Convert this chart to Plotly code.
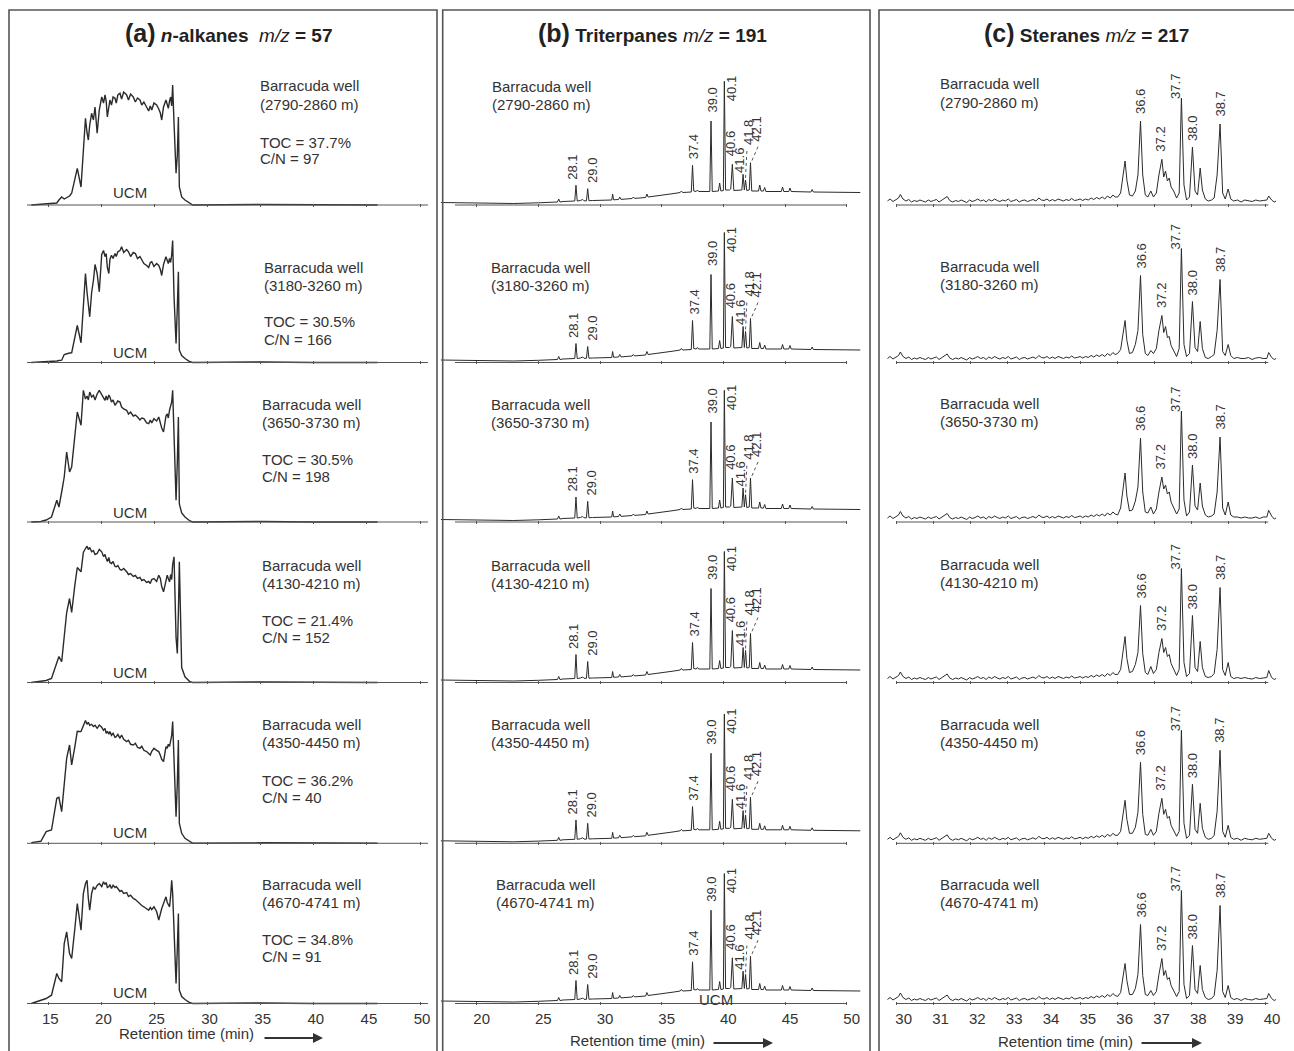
import plotly.graph_objects as go

W, H = 1294, 1051
FONT = "Liberation Sans, Arial, sans-serif"
INK = "#2b2b2b"

# ----------------------------- DATA -----------------------------
# (a) n-alkanes m/z 57 : retention time (min) and relative abundance
ALK_T = [13.4, 14.3, 14.8, 15.3, 15.8, 16.0, 16.26, 16.5, 16.73, 17.0, 17.2, 17.5, 17.73, 18.08, 18.3,
         18.5, 18.65, 18.77, 18.9, 19.08, 19.25, 19.4, 19.6, 19.8, 20.03, 20.2, 20.34, 20.45, 20.56,
         20.7, 20.8, 20.95, 21.1, 21.28, 21.4, 21.55, 21.75, 21.9, 22.1, 22.38, 22.55, 22.75, 23.0,
         23.2, 23.4, 23.63, 23.8, 24.0, 24.26, 24.45, 24.6, 24.74, 24.95, 25.2, 25.4, 25.55, 25.68,
         25.85, 26.08, 26.2, 26.3, 26.42, 26.52, 26.62, 26.71, 26.84, 27.03, 27.15, 27.25, 27.34,
         27.56, 27.87, 28.34, 28.6, 35.0, 40.0, 46.0]
ALK_H1 = [0, 0.5, 1, 1.5, 2, 5, 8, 6, 7.7, 9, 11.7, 25, 36.7, 18, 51.7, 86.7, 72, 65, 80, 91.7, 85, 98,
          71.7, 95, 108, 102, 110, 104, 88, 101, 105, 100, 108, 106.7, 102, 110, 111.7, 106, 113, 110,
          105, 111, 108, 103, 107, 105, 100, 103, 98, 94, 99, 95, 102, 100, 96, 92, 85, 98, 105, 100,
          96.7, 104, 108, 99, 120, 81.7, 31.7, 50, 88, 18, 8, 5, 1.7, 0, 0.5, 0, 0]
ALK_H2 = [0, 0.3, 0.5, 0.7, 1.5, 2, 2.3, 8, 9, 9.5, 9.7, 24, 37, 19.7, 59, 89, 70, 55, 45.7, 70, 82, 98,
          89, 70.7, 108, 112, 106, 109, 95, 89, 103, 107.3, 104, 109, 106, 110.7, 112, 115.7, 110, 113,
          110.7, 106, 110, 109, 104, 106, 102, 99, 97, 95, 100, 100.7, 96, 99, 97, 93, 87, 98, 105.7,
          101, 99, 104, 100, 108, 122, 65.7, 19, 55, 90.7, 12.3, 7, 4, 0.7, 0, 0.5, 0, 0]
ALK_H3 = [0, 0.5, 2, 5, 21.7, 15, 30, 45, 70, 50, 55, 85, 110, 96.7, 131.7, 123, 126, 122, 130, 125,
          126.7, 122, 128, 131.7, 127, 124, 121.7, 126, 122, 127, 125, 120, 122, 116.7, 119, 121, 120,
          115, 113, 111.7, 108, 110, 106, 107, 105, 102, 104, 103.3, 99, 98.3, 102, 99, 103.3, 101, 105,
          98, 94, 90, 106, 108, 104, 112, 115, 120, 131.7, 91.7, 21.7, 60, 105, 18, 9, 5, 1, 0, 0.5, 0, 0]
ALK_H4 = [0, 1, 2, 4, 20, 26, 20.7, 45.7, 70, 84, 70, 97.3, 115, 110.7, 130, 134, 136.3, 133, 135,
          130.7, 132, 128, 129, 133, 130.7, 126, 128, 124, 121, 125, 120, 119, 121, 116, 115.7, 117,
          113, 112.3, 114, 110.7, 108, 109, 106, 107, 104, 105, 102, 103, 100, 101, 99, 103, 104, 101,
          107.3, 104, 96, 90.7, 103, 107.3, 104, 100.7, 108, 103, 118, 125.7, 45, 29, 70, 120.7, 15,
          5.7, 0.7, 0, 0.5, 0, 0]
ALK_H5 = [0.7, 2, 11.7, 13.3, 45, 46, 31.7, 63.3, 85, 98.3, 78.3, 96.7, 112, 111.7, 118, 122.7, 119,
          121, 118, 119, 116.7, 118, 115, 118.3, 116, 113, 115, 110, 112, 109, 111.7, 108, 110, 106,
          106.7, 109, 105, 108.3, 104, 101.7, 103, 99, 98.3, 100, 96, 95, 97, 93, 91.7, 90, 88.3, 92,
          95, 93, 91.7, 88, 84, 81.7, 96.7, 95, 99, 97, 103.3, 108, 121.7, 73.3, 26.7, 60, 103.3, 20,
          10, 5, 1.7, 0, 0.5, 0, 0]
ALK_H6 = [0, 3, 5, 8.3, 30, 25, 21.7, 60, 71.7, 50, 45, 75, 100, 73.3, 110, 120, 123.3, 105, 93.3,
          110, 116.7, 114, 118, 120, 117, 121.7, 119, 121, 116, 116.7, 119, 115, 118.3, 116, 117, 115,
          112, 113, 110, 111, 107, 108.3, 105, 104, 101.7, 100, 98, 96.7, 95, 93.3, 96, 94, 96.7, 92,
          83.3, 90, 95, 100, 106.7, 101, 99, 96.7, 108, 123.3, 110, 80, 20, 55, 90, 13.3, 7, 4, 0.7,
          0, 0.5, 0, 0]
ALK_ROWS = [ALK_H1, ALK_H2, ALK_H3, ALK_H4, ALK_H5, ALK_H6]

# (b) triterpanes m/z 191 : baseline / minor peaks, shared by all depths
TRI_BASE_T = [17.1, 19.0, 21.0, 23.0, 25.0, 26.55, 26.65, 26.75, 27.0, 27.95, 28.15, 28.4, 28.6, 28.7,
              28.9, 29.1, 29.4, 30.95, 31.02, 31.1, 31.5, 31.6, 31.7, 32.6, 32.7, 32.8, 33.7, 33.8,
              33.9, 35.0, 36.0, 36.5, 36.6, 36.7, 37.4, 37.6, 37.8, 37.9, 38.0, 38.9, 39.1, 39.6, 39.7,
              39.8, 40.0, 40.18, 40.5, 40.6, 40.85, 41.5, 41.7, 41.9, 42.1, 42.3, 42.85, 42.95, 43.05,
              43.25, 43.35, 43.45, 44.7, 44.8, 44.9, 45.3, 45.4, 45.5, 47.1, 47.2, 47.3, 48.5, 50.0, 51.1]
TRI_BASE_H = [2.5, 2.2, 1.8, 1.5, 2.2, 3, 6, 3, 3.5, 4, 4, 4.5, 5.5, 4.2, 4.2, 4.3, 4.5, 5, 11, 5.2,
              5.5, 8, 5.6, 6.5, 8, 6.6, 7.5, 11, 8, 9.5, 11.5, 12.5, 14, 12.5, 13, 14, 13.5, 15, 13.5,
              13.5, 13.5, 14, 22, 14, 14.5, 15, 15, 16, 14.5, 15, 15, 14.5, 15, 14, 14, 20, 14, 14, 17.5,
              13.5, 13.5, 18, 13.5, 13.5, 17, 13.5, 13, 15.5, 13, 13, 13, 12.5]
TRI_LABELS = ["28.1", "29.0", "37.4", "39.0", "40.1", "40.6", "41.6", "41.8", "42.1"]
TRI_PEAK_T = [28.05, 29.0, 37.5, 39.0, 40.08, 40.73, 41.6, 41.8, 42.2]
TRI_H1 = [19.7, 16.3, 39.7, 84, 123.7, 40.7, 30.7, 25, 42.3]
TRI_H2 = [19, 16, 42, 88, 130, 46, 36, 31, 44]
TRI_H3 = [25, 20.7, 42.3, 100, 131.7, 44, 34, 27.3, 44]
TRI_H4 = [28, 21, 40, 94, 131, 52, 35, 32, 49]
TRI_H5 = [23.3, 20, 36.7, 90, 129.3, 44, 32.7, 28.3, 46]
TRI_H6 = [23, 19, 41.7, 93.3, 130, 45.7, 32.3, 29, 47.3]
TRI_ROWS = [TRI_H1, TRI_H2, TRI_H3, TRI_H4, TRI_H5, TRI_H6]

# (c) steranes m/z 217 : noisy baseline (shared) + peak region per depth
STE_BASE_T = [29.75, 29.82, 29.9, 29.97, 30.05, 30.1, 30.17, 30.25, 30.33, 30.4, 30.48, 30.55, 30.63,
              30.7, 30.78, 30.86, 30.93, 31.0, 31.08, 31.15, 31.23, 31.3, 31.37, 31.44, 31.52, 31.6,
              31.68, 31.75, 31.83, 31.9, 31.98, 32.05, 32.13, 32.2, 32.28, 32.36, 32.43, 32.5, 32.58,
              32.66, 32.73, 32.8, 32.88, 32.95, 33.03, 33.1, 33.18, 33.25, 33.33, 33.4, 33.48, 33.55,
              33.63, 33.7, 33.78, 33.86, 33.93, 34.0, 34.08, 34.15, 34.23, 34.3, 34.38, 34.45, 34.53,
              34.6, 34.68, 34.75, 34.83, 34.9, 34.98, 35.05, 35.13, 35.2, 35.28, 35.35, 35.43, 35.5,
              35.58, 35.65, 35.72, 35.8, 35.87, 35.93]
STE_BASE_H = [4, 6, 3.5, 5, 7, 10.5, 6, 4, 5.5, 3, 4.5, 3.5, 5, 4, 3, 5, 3.5, 4.5, 5.5, 3, 5, 6, 8.5,
              4.5, 3, 4.5, 3.5, 5, 4, 2.5, 5, 3.5, 4.5, 6, 4, 5, 3, 5.5, 4, 6, 4.5, 3.5, 5, 4, 6, 3.5,
              4.5, 5.5, 3, 4.5, 5, 3.5, 4.5, 5.5, 4, 7, 5, 4.5, 6, 4, 5.5, 4, 6, 5, 4, 5.5, 4.5, 6.5,
              4.5, 5, 6, 4.5, 6, 5, 7, 5.5, 7.5, 6, 8, 6, 9, 7, 10, 8]
STE_T = [36.0, 36.08, 36.15, 36.2, 36.25, 36.32, 36.4, 36.48, 36.55, 36.62, 36.68, 36.75, 36.82, 36.9,
         36.97, 37.05, 37.12, 37.2, 37.25, 37.3, 37.35, 37.4, 37.45, 37.52, 37.6, 37.67, 37.73, 37.8,
         37.87, 37.95, 38.03, 38.1, 38.17, 38.24, 38.3, 38.38, 38.46, 38.55, 38.62, 38.7, 38.78, 38.85,
         38.92, 39.0, 39.07, 39.15, 39.25, 39.35, 39.45, 39.55, 39.65, 39.75, 39.85, 39.95, 40.05,
         40.1, 40.18, 40.25, 40.3]
STE_H1 = [8, 12, 30, 44, 25, 10, 9, 14, 30, 84, 30, 10, 8, 14, 8, 12, 30, 45.7, 28, 34, 24, 27, 18, 14,
          7, 12, 107, 20, 5, 8, 58, 14, 10, 37, 15, 6, 4, 5, 7, 30, 81, 12, 6, 16, 6, 4, 5, 3, 5, 4,
          3.5, 5, 4, 4.5, 5, 9, 5, 3, 4]
STE_H2 = [9, 13, 28, 42, 22, 9, 10, 18, 32, 87, 28, 9, 7, 12, 9, 14, 32, 47, 30, 36, 25, 26, 17, 12,
          6, 14, 114, 18, 6, 9, 61, 15, 11, 41, 14, 5, 4, 6, 8, 32, 83, 11, 7, 18, 7, 4, 5, 4, 4, 5,
          3, 4.5, 5, 4, 4, 10, 5, 3, 4]
STE_H3 = [7, 14, 33, 49, 26, 11, 12, 21, 35, 84, 30, 10, 9, 15, 8, 13, 30, 45, 33, 37, 28, 30, 20, 15,
          8, 13, 111, 22, 6, 10, 57, 16, 12, 39, 16, 7, 5, 6, 8, 30, 85, 14, 7, 20, 7, 5, 5, 4, 5, 4,
          4, 5, 3.5, 5, 5, 11.7, 6, 3, 4]
STE_H4 = [8, 13, 31, 46, 24, 10, 11, 18, 30, 77, 29, 10, 8, 16, 9, 13, 30, 44, 30, 35, 26, 28, 19, 13,
          7, 13, 114, 20, 6, 9, 67, 15, 11, 41, 15, 6, 5, 6, 9, 33, 95, 13, 7, 20, 6, 4, 5, 4, 5, 4,
          3.5, 5, 4, 4.5, 5, 12, 5, 3, 4]
STE_H5 = [8, 12, 29, 43, 24, 10, 10, 16, 31, 81, 29, 9, 8, 14, 8, 12, 30, 45, 29, 34, 25, 27, 18, 13,
          7, 12, 113, 20, 5, 8, 59, 14, 10, 40, 15, 6, 4, 5, 8, 32, 93, 12, 6, 18, 6, 4, 5, 3, 5, 4,
          3.5, 5, 4, 4.5, 5, 10, 5, 3, 4]
STE_H6 = [7, 11, 27, 40, 23, 9, 9, 15, 29, 79, 28, 9, 8, 13, 8, 12, 29, 45, 28, 33, 24, 26, 18, 13,
          7, 12, 113, 19, 5, 8, 58, 14, 10, 38, 14, 6, 4, 5, 8, 33, 98, 12, 6, 18, 6, 4, 5, 3, 5, 4,
          3.5, 5, 4, 4.5, 5, 10, 5, 3, 4]
STE_ROWS = [STE_H1, STE_H2, STE_H3, STE_H4, STE_H5, STE_H6]
STE_LABELS = ["36.6", "37.2", "37.7", "38.0", "38.7"]
STE_PEAK_T = [36.62, 37.2, 37.73, 38.03, 38.78]

DEPTHS = ["2790-2860 m", "3180-3260 m", "3650-3730 m", "4130-4210 m", "4350-4450 m", "4670-4741 m"]
TOC = ["37.7%", "30.5%", "30.5%", "21.4%", "36.2%", "34.8%"]
CN = ["97", "166", "198", "152", "40", "91"]

ALK_TICKS = [15, 20, 25, 30, 35, 40, 45, 50]
TRI_TICKS = [20, 25, 30, 35, 40, 45, 50]
STE_TICKS = [30, 31, 32, 33, 34, 35, 36, 37, 38, 39, 40]

# ----------------------------- LAYOUT -----------------------------
ROW_BASE = [205, 362.5, 522, 682.5, 843.3, 1003.5]   # pixel y of each axis line
PAD = 1.5
PLOT_H = 150

# per column: domain px, reference tick mapping, axis-line extent, label shift
COLS = [
    dict(px0=27, px1=430, t_ref=15, px_ref=48.3, ppu=10.62, line=(13.0, 50.75), ticks=ALK_TICKS, shift=2),
    dict(px0=440, px1=862, t_ref=20, px_ref=476.7, ppu=12.333, line=(18.24, 50.03), ticks=TRI_TICKS, shift=5),
    dict(px0=884, px1=1280, t_ref=30, px_ref=896.7, ppu=36.83, line=(30.0, 40.09), ticks=STE_TICKS, shift=7),
]


def pxx(x):
    return x / W


def pyy(y):
    return 1 - y / H


fig = go.Figure()
layout = dict(width=W, height=H, margin=dict(l=0, r=0, t=0, b=0), paper_bgcolor="white",
              plot_bgcolor="rgba(0,0,0,0)", showlegend=False)
shapes = []
annotations = []


def ax_id(k):
    return "" if k == 1 else str(k)


for r in range(6):
    for c in range(3):
        k = r * 3 + c + 1
        s = ax_id(k)
        col = COLS[c]
        r0 = col["t_ref"] + (col["px0"] - col["px_ref"]) / col["ppu"]
        r1 = col["t_ref"] + (col["px1"] - col["px_ref"]) / col["ppu"]
        layout["xaxis" + s] = dict(
            domain=[pxx(col["px0"]), pxx(col["px1"])], range=[r0, r1], anchor="y" + s,
            showgrid=False, zeroline=False, showline=False, ticks="inside", ticklen=3,
            tickwidth=1, tickcolor="#555", tickmode="array", tickvals=col["ticks"],
            showticklabels=(r == 5), ticklabelshift=col["shift"], ticklabelstandoff=3,
            tickfont=dict(family=FONT, size=15, color="#333"), fixedrange=True)
        layout["yaxis" + s] = dict(
            domain=[pyy(ROW_BASE[r] + PAD), pyy(ROW_BASE[r] + PAD - PLOT_H)],
            range=[-PAD, PLOT_H - PAD], anchor="x" + s, visible=False, fixedrange=True)
        shapes.append(dict(type="line", xref="x" + s, yref="y" + s, x0=col["line"][0], x1=col["line"][1],
                           y0=0, y1=0, line=dict(color="#555", width=1)))

        if c == 0:
            xs, ys = ALK_T, ALK_ROWS[r]
            lw = 1.4
        elif c == 1:
            pts = sorted(list(zip(TRI_BASE_T, TRI_BASE_H)) + list(zip(TRI_PEAK_T, TRI_ROWS[r])))
            xs = [p[0] for p in pts]
            ys = [p[1] for p in pts]
            lw = 1.0
        else:
            xs = STE_BASE_T + STE_T
            ys = STE_BASE_H + STE_ROWS[r]
            lw = 1.0
        fig.add_trace(go.Scatter(x=xs, y=ys, mode="lines", xaxis="x" + s, yaxis="y" + s,
                                 line=dict(color=INK, width=lw), hoverinfo="skip"))

        # peak labels
        if c == 1:
            style = {"28.1": (-3, 4, "bottom"), "29.0": (4, 4, "bottom"), "37.4": (1, 4, "bottom"),
                     "39.0": (1, 6, "bottom"), "40.1": (7, 7, "top"), "40.6": (-2, 6, "bottom"),
                     "41.6": (-3, -1, "bottom"), "41.8": (3, 33, "bottom"), "42.1": (6, 19, "bottom")}
            for lab, t, h in zip(TRI_LABELS, TRI_PEAK_T, TRI_ROWS[r]):
                dx, dy, anc = style[lab]
                annotations.append(dict(x=t, y=h, xref="x" + s, yref="y" + s, text=lab, showarrow=False,
                                        textangle=-90, xanchor="center", yanchor=anc, xshift=dx,
                                        yshift=dy, font=dict(family=FONT, size=13, color="#333")))
                if lab == "41.8":
                    shapes.append(dict(type="line", xref="x" + s, yref="y" + s,
                                       x0=t + 1.3 / col["ppu"], y0=h + 29, x1=t, y1=h + 2,
                                       line=dict(color="#555", width=1, dash="dot")))
                if lab == "42.1":
                    shapes.append(dict(type="line", xref="x" + s, yref="y" + s,
                                       x0=t + 7.5 / col["ppu"], y0=h + 16, x1=t + 1 / col["ppu"], y1=h + 1,
                                       line=dict(color="#555", width=1, dash="dot")))
        if c == 2:
            style = {"36.6": (0, 5), "37.2": (-1, 6), "37.7": (-6, -3), "38.0": (0, 4), "38.7": (0, 5)}
            for lab, t in zip(STE_LABELS, STE_PEAK_T):
                h = STE_ROWS[r][STE_T.index(t)]
                dx, dy = style[lab]
                annotations.append(dict(x=t, y=h, xref="x" + s, yref="y" + s, text=lab, showarrow=False,
                                        textangle=-90, xanchor="center", yanchor="bottom", xshift=dx,
                                        yshift=dy, font=dict(family=FONT, size=13, color="#333")))


def txt(x, y, text, size=15, anchor="left", color="#333"):
    annotations.append(dict(x=pxx(x), y=pyy(y), xref="paper", yref="paper", text=text, showarrow=False,
                            xanchor=anchor, yanchor="middle", font=dict(family=FONT, size=size, color=color)))


# sample annotations
A_X = [258, 262, 260, 260, 260, 260]
A_Y = [86, 267, 404, 565, 724, 884]
A_TOC_Y = [142, 322, 459, 620, 780, 939]
UCM_Y = [192, 352, 512, 672, 832, 992]
B_X = [490, 489, 489, 489, 489, 494]
B_Y = [87, 267, 404, 565, 724, 884]
C_Y = [84, 266, 403, 564, 724, 884]
for r in range(6):
    txt(A_X[r], A_Y[r], "Barracuda well")
    txt(A_X[r], A_Y[r] + 18, "(" + DEPTHS[r] + ")")
    txt(A_X[r], A_TOC_Y[r], "TOC = " + TOC[r])
    txt(A_X[r], A_TOC_Y[r] + 17, "C/N = " + CN[r])
    txt(130, UCM_Y[r], "UCM", anchor="center")
    txt(B_X[r], B_Y[r], "Barracuda well")
    txt(B_X[r], B_Y[r] + 18, "(" + DEPTHS[r] + ")")
    txt(938, C_Y[r], "Barracuda well")
    txt(938, C_Y[r] + 18, "(" + DEPTHS[r] + ")")
txt(716, 999, "UCM", anchor="center")

# titles
TITLE_SMALL = 19
annotations.append(dict(x=pxx(228), y=pyy(33), xref="paper", yref="paper", showarrow=False,
                        xanchor="center", yanchor="middle", font=dict(family=FONT, size=TITLE_SMALL, color="#222"),
                        text="<b><span style='font-size:25px'>(a)</span> <i>n</i>-alkanes&nbsp;&nbsp;"
                             "<span style='font-weight:normal'><i>m/z</i></span> = 57</b>"))
annotations.append(dict(x=pxx(652), y=pyy(33), xref="paper", yref="paper", showarrow=False,
                        xanchor="center", yanchor="middle", font=dict(family=FONT, size=TITLE_SMALL, color="#222"),
                        text="<b><span style='font-size:25px'>(b)</span> Triterpanes "
                             "<span style='font-weight:normal'><i>m/z</i></span> = 191</b>"))
annotations.append(dict(x=pxx(1086), y=pyy(33), xref="paper", yref="paper", showarrow=False,
                        xanchor="center", yanchor="middle", font=dict(family=FONT, size=TITLE_SMALL, color="#222"),
                        text="<b><span style='font-size:25px'>(c)</span> Steranes "
                             "<span style='font-weight:normal'><i>m/z</i></span> = 217</b>"))

# axis titles with arrows
for cx, cy, ax0, ax1, ay in [(186, 1033, 263, 323, 1038), (637, 1040, 712, 773, 1043),
                             (1065, 1041, 1140, 1202, 1043)]:
    txt(cx, cy, "Retention time (min)", anchor="center")
    annotations.append(dict(x=pxx(ax1), y=pyy(ay), xref="paper", yref="paper", text="", showarrow=True,
                            ax=-(ax1 - ax0), ay=0, arrowhead=2, arrowsize=1, arrowwidth=2, arrowcolor="#333"))

# column frames
for x0, x1 in [(9, 437), (442.7, 870), (879, 1300)]:
    shapes.append(dict(type="rect", xref="paper", yref="paper", x0=pxx(x0), x1=pxx(x1), y0=-0.05,
                       y1=pyy(10), line=dict(color="#555", width=1.6), fillcolor="rgba(0,0,0,0)"))

layout["shapes"] = shapes
layout["annotations"] = annotations
fig.update_layout(**layout)
fig.write_html("out.html", config={"displayModeBar": False},
               post_script="document.body.style.margin='0px';")
